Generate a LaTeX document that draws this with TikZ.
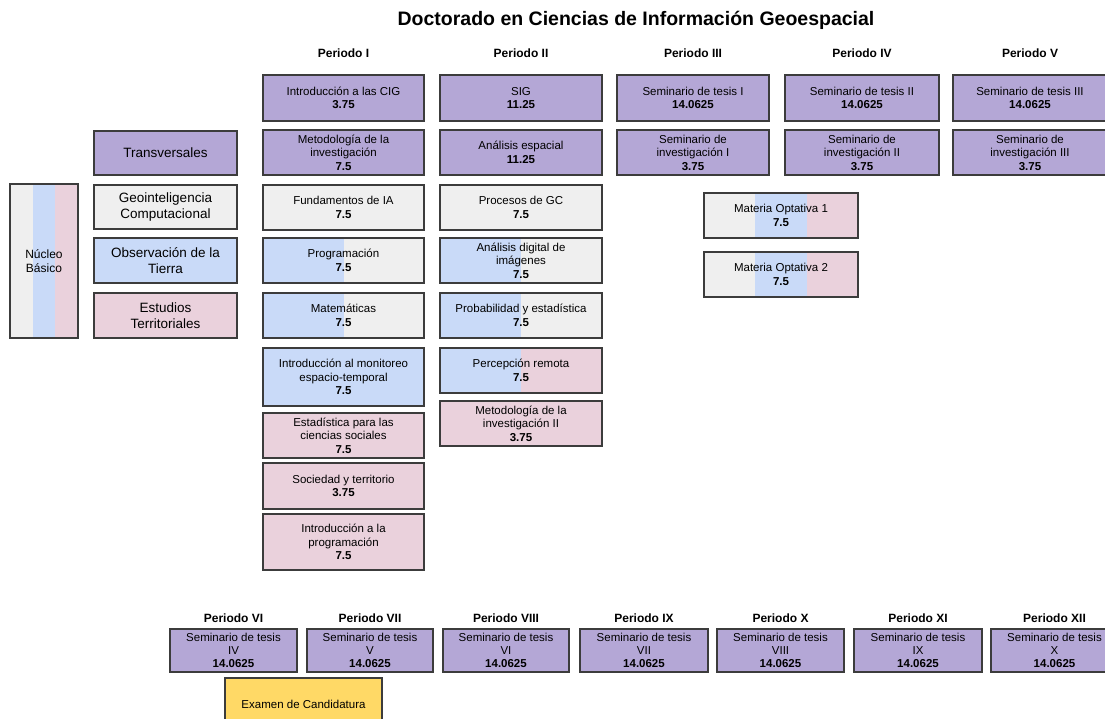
\documentclass[tikz,border=0pt]{standalone}
\usepackage{fontspec}
\setmainfont{Liberation Sans}
\usetikzlibrary{calc}
\definecolor{cpur}{HTML}{B4A7D6}
\definecolor{cgray}{HTML}{EFEFEF}
\definecolor{cblue}{HTML}{C9DAF8}
\definecolor{cpink}{HTML}{EAD1DC}
\definecolor{cyel}{HTML}{FFD966}
\definecolor{cline}{HTML}{3C3C3C}
\tikzset{
  box/.style={draw=cline, line width=1.1pt, align=center, inner sep=1pt,
    font=\fontsize{11.5}{13.5}\selectfont},
  trbox/.style={box, fill=cpur},
  geobox/.style={box, fill=cgray},
  obsbox/.style={box, fill=cblue},
  estbox/.style={box, fill=cpink},
  exbox/.style={box, fill=cyel},
  tightbox/.style={font=\fontsize{11.5}{13}\selectfont},
  twobox/.style 2 args={box, path picture={
      \fill[#1] (path picture bounding box.south west) rectangle (path picture bounding box.north);
      \fill[#2] (path picture bounding box.south) rectangle (path picture bounding box.north east);}},
  threebox/.style={box, path picture={
      \fill[cgray] (path picture bounding box.south west) rectangle
        ($(path picture bounding box.north west)!0.3333!(path picture bounding box.north east)$);
      \fill[cblue] ($(path picture bounding box.south west)!0.3333!(path picture bounding box.south east)$) rectangle
        ($(path picture bounding box.north west)!0.6667!(path picture bounding box.north east)$);
      \fill[cpink] ($(path picture bounding box.south west)!0.6667!(path picture bounding box.south east)$) rectangle
        (path picture bounding box.north east);}},
  perlabel/.style={font=\bfseries\fontsize{12}{14}\selectfont, inner sep=0pt},
  titlelabel/.style={font=\bfseries\fontsize{19.5}{22}\selectfont, inner sep=0pt},
}
\newcommand\mybox[7]{\node[#6, minimum width={(#4)-(#2)}, minimum height={(#5)-(#3)}] (#1) at ({((#2)+(#4))/2},{-((#3)+(#5))/2}) {#7};}
\begin{document}
\begin{tikzpicture}[x=1pt,y=1pt]
\useasboundingbox (0,0) rectangle (1105,-719);
\clip (0,0) rectangle (1105,-719);
\fill[white] (0,0) rectangle (1105,-719);

\node[titlelabel] (title) at (636,-20) {Doctorado en Ciencias de Información Geoespacial};

% period labels (top)
\node[perlabel] (p1) at (343.5,-53) {Periodo I};
\node[perlabel] (p2) at (521,-53) {Periodo II};
\node[perlabel] (p3) at (693,-53) {Periodo III};
\node[perlabel] (p4) at (862,-53) {Periodo IV};
\node[perlabel] (p5) at (1030,-53) {Periodo V};

% legend
\mybox{nucleo}{10}{184}{78}{338}{threebox, font=\fontsize{12}{14}\selectfont}{Núcleo\\Básico}
\mybox{ltr}{94}{131}{237}{175}{trbox, font=\fontsize{13.5}{16}\selectfont}{Transversales}
\mybox{lgeo}{94}{185}{237}{229}{geobox, font=\fontsize{13.5}{16}\selectfont}{Geointeligencia\\Computacional}
\mybox{lobs}{94}{238}{237}{283}{obsbox, font=\fontsize{13.5}{16}\selectfont}{Observación de la\\Tierra}
\mybox{lest}{94}{293}{237}{338}{estbox, font=\fontsize{13.5}{16}\selectfont}{Estudios\\Territoriales}

% Periodo I
\mybox{intro}{263}{75}{424}{121}{trbox}{Introducción a las CIG\\\textbf{3.75}}
\mybox{metod}{263}{130}{424}{175}{trbox}{Metodología de la\\investigación\\\textbf{7.5}}
\mybox{fund}{263}{185}{424}{230}{geobox}{Fundamentos de IA\\\textbf{7.5}}
\mybox{prog}{263}{238}{424}{283}{twobox={cblue}{cgray}}{Programación\\\textbf{7.5}}
\mybox{mat}{263}{293}{424}{338}{twobox={cblue}{cgray}}{Matemáticas\\\textbf{7.5}}
\mybox{monit}{263}{348}{424}{406}{obsbox}{Introducción al monitoreo\\espacio-temporal\\\textbf{7.5}}
\mybox{estad}{263}{413}{424}{458}{estbox}{Estadística para las\\ciencias sociales\\\textbf{7.5}}
\mybox{soc}{263}{463}{424}{509}{estbox}{Sociedad y territorio\\\textbf{3.75}}
\mybox{iprog}{263}{514}{424}{570}{estbox}{Introducción a la\\programación\\\textbf{7.5}}

% Periodo II
\mybox{sig}{440}{75}{602}{121}{trbox}{SIG\\\textbf{11.25}}
\mybox{aesp}{440}{130}{602}{175}{trbox}{Análisis espacial\\\textbf{11.25}}
\mybox{pgc}{440}{185}{602}{230}{geobox}{Procesos de GC\\\textbf{7.5}}
\mybox{adig}{440}{238}{602}{283}{twobox={cblue}{cgray}}{Análisis digital de\\imágenes\\\textbf{7.5}}
\mybox{prob}{440}{293}{602}{338}{twobox={cblue}{cgray}}{Probabilidad y estadística\\\textbf{7.5}}
\mybox{perc}{440}{348}{602}{393}{twobox={cblue}{cpink}}{Percepción remota\\\textbf{7.5}}
\mybox{met2}{440}{401}{602}{446}{estbox}{Metodología de la\\investigación II\\\textbf{3.75}}

% Periodos III-V
\mybox{st1}{617}{75}{769}{121}{trbox}{Seminario de tesis I\\\textbf{14.0625}}
\mybox{si1}{617}{130}{769}{175}{trbox}{Seminario de\\investigación I\\\textbf{3.75}}
\mybox{st2}{785}{75}{939}{121}{trbox}{Seminario de tesis II\\\textbf{14.0625}}
\mybox{si2}{785}{130}{939}{175}{trbox}{Seminario de\\investigación II\\\textbf{3.75}}
\mybox{st3}{953}{75}{1107}{121}{trbox}{Seminario de tesis III\\\textbf{14.0625}}
\mybox{si3}{953}{130}{1107}{175}{trbox}{Seminario de\\investigación III\\\textbf{3.75}}

\mybox{opt1}{704}{193}{858}{238}{threebox}{Materia Optativa 1\\\textbf{7.5}}
\mybox{opt2}{704}{252}{858}{297}{threebox}{Materia Optativa 2\\\textbf{7.5}}

% bottom row
\node[perlabel] (p6) at (233.5,-618) {Periodo VI};
\node[perlabel] (p7) at (370,-618) {Periodo VII};
\node[perlabel] (p8) at (506,-618) {Periodo VIII};
\node[perlabel] (p9) at (644,-618) {Periodo IX};
\node[perlabel] (p10) at (780.5,-618) {Periodo X};
\node[perlabel] (p11) at (918,-618) {Periodo XI};
\node[perlabel] (p12) at (1054.5,-618) {Periodo XII};

\mybox{st4}{170}{629}{297}{672}{trbox, tightbox}{Seminario de tesis\\IV\\\textbf{14.0625}}
\mybox{st5}{307}{629}{433}{672}{trbox, tightbox}{Seminario de tesis\\V\\\textbf{14.0625}}
\mybox{st6}{443}{629}{569}{672}{trbox, tightbox}{Seminario de tesis\\VI\\\textbf{14.0625}}
\mybox{st7}{580}{629}{708}{672}{trbox, tightbox}{Seminario de tesis\\VII\\\textbf{14.0625}}
\mybox{st8}{717}{629}{844}{672}{trbox, tightbox}{Seminario de tesis\\VIII\\\textbf{14.0625}}
\mybox{st9}{854}{629}{982}{672}{trbox, tightbox}{Seminario de tesis\\IX\\\textbf{14.0625}}
\mybox{st10}{991}{629}{1118}{672}{trbox, tightbox}{Seminario de tesis\\X\\\textbf{14.0625}}

\mybox{exam}{225}{678}{382}{730}{exbox}{Examen de Candidatura}
\end{tikzpicture}
\end{document}
